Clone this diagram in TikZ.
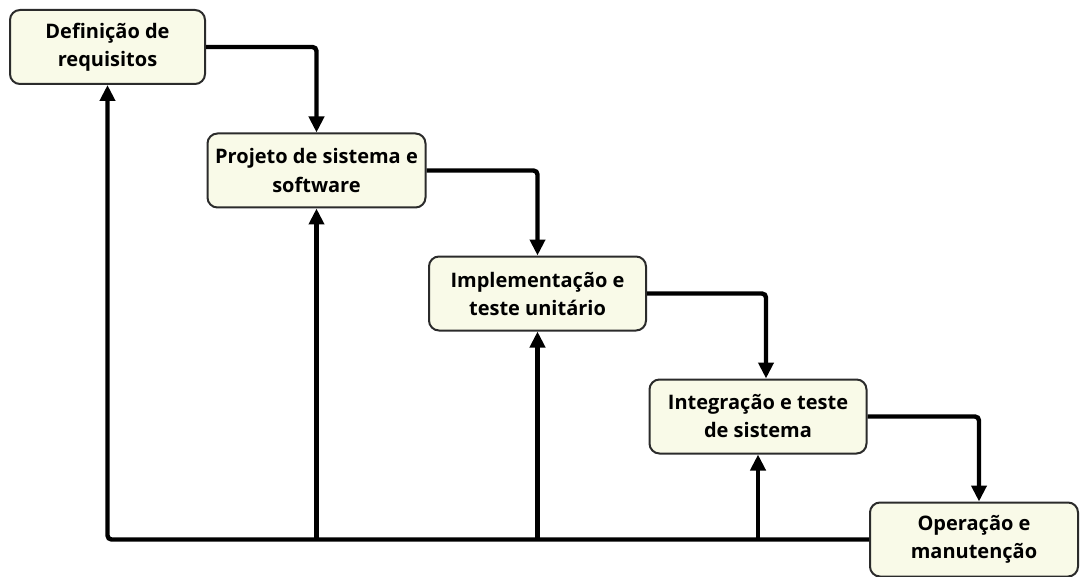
\documentclass[tikz,border=0pt]{standalone}
\usepackage{fontspec}
\setmainfont{Open Sans}
\usetikzlibrary{arrows.meta}
\definecolor{boxfill}{HTML}{F9FAE8}
\definecolor{boxline}{HTML}{2B2B2B}

\begin{document}
\begin{tikzpicture}[x=0.5pt, y=-0.5pt,
  box/.style={draw=boxline, fill=boxfill, line width=1pt, rounded corners=5pt, minimum height=37pt, align=center, font=\bfseries\fontsize{10}{14}\selectfont},
  flow/.style={line width=2.2pt, rounded corners=2pt, -{Triangle[width=7.5pt,length=8pt]}}]
\useasboundingbox (0,0) rectangle (1080,577); % page frame
\node[box, minimum width=97.5pt] (req) at (107.5,47) {Definição de\\requisitos}; % step 1
\node[box, minimum width=109pt] (proj) at (316.5,170.5) {Projeto de sistema e\\software}; % step 2
\node[box, minimum width=108.5pt] (impl) at (537.5,293.5) {Implementação e\\teste unitário}; % step 3
\node[box, minimum width=108.5pt] (integ) at (758,416.5) {Integração e teste\\de sistema}; % step 4
\node[box, minimum width=104pt] (oper) at (974,539.5) {Operação e\\manutenção}; % step 5
\draw[flow] (req.east) -| (proj.north); % down 1
\draw[flow] (proj.east) -| (impl.north); % down 2
\draw[flow] (impl.east) -| ([xshift=4pt]integ.north); % down 3
\draw[flow] (integ.east) -| ([xshift=2.5pt]oper.north); % down 4
\draw[flow] (oper.west) -| (req.south); % feedback line
\draw[flow] (proj.south |- oper.west) -- (proj.south); % back to 2
\draw[flow] (impl.south |- oper.west) -- (impl.south); % back to 3
\draw[flow] (integ.south |- oper.west) -- (integ.south); % back to 4
\end{tikzpicture}
\end{document}
